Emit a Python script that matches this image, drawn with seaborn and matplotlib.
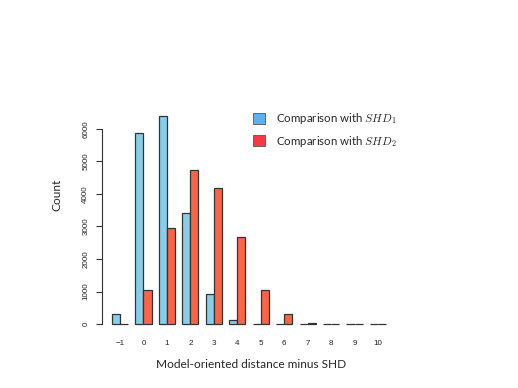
import pandas as pd
import matplotlib.pyplot as plt
import seaborn as sns
from matplotlib.patches import Patch

# Values
diffs = ['\u22121', '0', '1', '2', '3', '4', '5', '6', '7', '8', '9', '10']
shd1_counts = [300, 5880, 6410, 3430, 920, 110, 15, 6, 8, 2, 2, 4]
shd2_counts = [8, 1060, 2950, 4750, 4170, 2690, 1050, 300, 40, 6, 4, 4]
series_names = ['Comparison with $SHD_1$', 'Comparison with $SHD_2$']

df = pd.DataFrame({
    'diff': diffs * 2,
    'count': shd1_counts + shd2_counts,
    'series': [series_names[0]] * len(diffs) + [series_names[1]] * len(diffs),
})

sns.set_style('white')
plt.rcParams['font.family'] = ['Lato', 'DejaVu Sans']
plt.rcParams['mathtext.fontset'] = 'cm'

fig = plt.figure(figsize=(5.18, 3.88), dpi=100)
W, H = 518, 388
ax = fig.add_axes([101.5 / W, 1 - 330 / H, (400 - 101.5) / W, (330 - 60) / H])

sns.barplot(data=df, x='diff', y='count', hue='series', order=diffs,
            palette=['#87CEEB', '#FF6347'], width=0.69,
            edgecolor='#333333', linewidth=0.9, saturation=1,
            legend=False, ax=ax)

step = 23.45
ax.set_xlim(-(120 - 101.5) / step, (400 - 120) / step)
per_px = 1000 / 32.5
ax.set_ylim(-6 * per_px, 264 * per_px)

sns.despine(ax=ax, bottom=True)
ax.spines['left'].set_bounds(0, 6000)
ax.spines['left'].set_color('#333333')
ax.spines['left'].set_linewidth(0.8)
ax.set_yticks(range(0, 7000, 1000))
ax.tick_params(axis='y', left=True, length=4.3, width=0.8, color='#333333',
               labelrotation=90, labelsize=5.8, pad=4.5, labelcolor='#222222')
for lab in ax.get_yticklabels():
    lab.set_va('center')
    lab.set_family('Liberation Sans')
ax.tick_params(axis='x', bottom=False, length=0, pad=7.5, labelsize=5.8,
               labelcolor='#222222')
for lab in ax.get_xticklabels():
    lab.set_family('Liberation Sans')

ax.set_xlabel('Model-oriented distance minus SHD', fontsize=8.6, labelpad=8)
ax.set_ylabel('Count', fontsize=8.6, labelpad=14)

handles = [Patch(facecolor='#5FB0F2', edgecolor='#555555', linewidth=0.6),
           Patch(facecolor='#F53A45', edgecolor='#555555', linewidth=0.6)]
fig.legend(handles, series_names, loc='upper left',
           bbox_to_anchor=(243 / W, 1 - 101 / H), frameon=False,
           fontsize=8.3, handlelength=1.0, handleheight=1.1,
           handletextpad=1.0, labelspacing=0.62)

fig.savefig('out.png', dpi=100)
